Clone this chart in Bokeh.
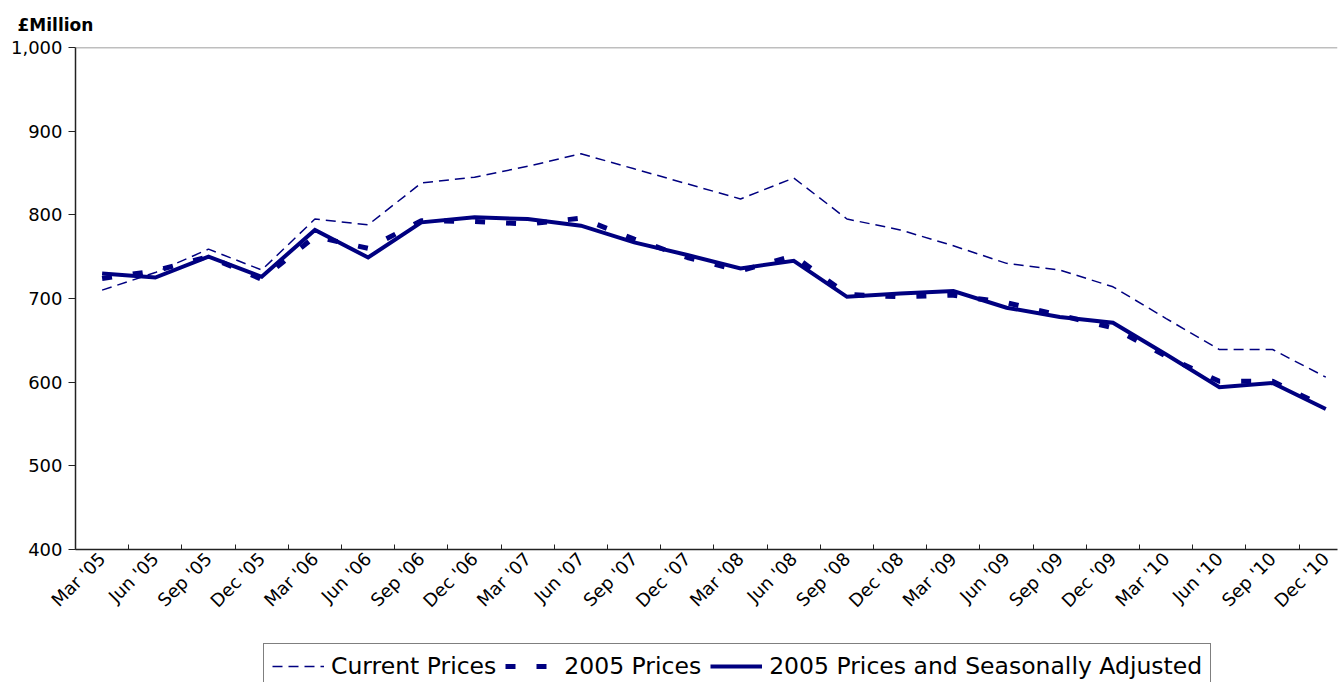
from math import pi
from bokeh.plotting import figure
from bokeh.layouts import column
from bokeh.models import (Range1d, FixedTicker, NumeralTickFormatter, Legend,
                          LegendItem, Span)
from bokeh.embed import file_html
from bokeh.resources import INLINE

quarters = ["Mar '05", "Jun '05", "Sep '05", "Dec '05",
            "Mar '06", "Jun '06", "Sep '06", "Dec '06",
            "Mar '07", "Jun '07", "Sep '07", "Dec '07",
            "Mar '08", "Jun '08", "Sep '08", "Dec '08",
            "Mar '09", "Jun '09", "Sep '09", "Dec '09",
            "Mar '10", "Jun '10", "Sep '10", "Dec '10"]

current_prices = [710, 731, 759, 734, 795, 788, 838, 845, 858, 873, 855, 837,
                  819, 844, 795, 782, 763, 742, 734, 714, 676, 639, 639, 606]

prices_2005 = [724, 733, 750, 723, 774, 760, 793, 792, 789, 796, 771, 749,
               733, 751, 705, 702, 704, 695, 680, 665, 631, 601, 601, 570]

prices_2005_sa = [730, 725, 750, 726, 782, 749, 791, 797, 795, 787, 767, 752,
                  736, 745, 702, 706, 709, 689, 678, 671, 633, 594, 599, 568]

y_ticks = [400, 500, 600, 700, 800, 900, 1000]
series_names = ["Current Prices", "2005 Prices",
                "2005 Prices and Seasonally Adjusted"]

NAVY = "#000080"
FONT = "DejaVu Sans"

STYLES = [dict(line_color=NAVY, line_width=1.5, line_dash="10 6"),
          dict(line_color=NAVY, line_width=5, line_dash="10 21"),
          dict(line_color=NAVY, line_width=4, line_join="miter")]

xs = [i + 0.5 for i in range(len(quarters))]

p = figure(width=1339, height=640,
           x_range=Range1d(0, 23.72), y_range=Range1d(400, 1000),
           output_backend="svg", toolbar_location=None,
           min_border_left=75, min_border_right=2,
           min_border_top=47, min_border_bottom=91)
p.outline_line_color = None
p.xgrid.visible = False
p.ygrid.visible = False
p.background_fill_color = "white"
p.border_fill_color = "white"

# unit label as a left-aligned title
p.title.text = "£Million"
p.title.align = "left"
p.title.offset = -58
p.title.standoff = 25
p.title.text_font = FONT
p.title.text_font_size = "17px"
p.title.text_font_style = "bold"
p.title.text_color = "black"

# top border of plot area
p.add_layout(Span(location=1000, dimension="width", line_color="#7f7f7f",
                  line_width=1.5))

for vals, st in zip([current_prices, prices_2005, prices_2005_sa], STYLES):
    p.line(xs, vals, **st)

# x axis
xa = p.xaxis[0]
xa.ticker = FixedTicker(ticks=xs, minor_ticks=list(range(0, 25)))
xa.major_label_overrides = {x: q for x, q in zip(xs, quarters)}
xa.major_tick_in = 0
xa.major_tick_out = 0
xa.minor_tick_in = 5
xa.minor_tick_out = 0
xa.minor_tick_line_color = "#222222"
xa.axis_line_color = "#222222"
xa.axis_line_width = 1.5
xa.major_label_orientation = pi / 4
xa.major_label_standoff = 6
xa.major_label_text_font = FONT
xa.major_label_text_font_size = "18px"
xa.major_label_text_color = "black"

# y axis
ya = p.yaxis[0]
ya.ticker = FixedTicker(ticks=y_ticks)
ya.formatter = NumeralTickFormatter(format="0,0")
ya.major_tick_in = 0
ya.major_tick_out = 7
ya.minor_tick_in = 0
ya.minor_tick_out = 0
ya.major_tick_line_color = "#222222"
ya.axis_line_color = "#222222"
ya.axis_line_width = 1.5
ya.major_label_standoff = 6
ya.major_label_text_font = FONT
ya.major_label_text_font_size = "18px"
ya.major_label_text_color = "black"

# legend strip (the reference legend box is cut by the picture's bottom edge)
p2 = figure(width=1339, height=42, x_range=Range1d(0, 1),
            y_range=Range1d(0, 1), output_backend="svg",
            toolbar_location=None, x_axis_location=None,
            y_axis_location=None, min_border=0)
p2.outline_line_color = None
p2.xgrid.visible = False
p2.ygrid.visible = False
p2.background_fill_color = "white"
p2.border_fill_color = "white"

items = []
for name, st in zip(series_names, STYLES):
    # proxy renderers lying outside the strip's visible range
    r = p2.line([5, 6], [5, 6], **st)
    items.append(LegendItem(label=name, renderers=[r]))

legend = Legend(items=items, orientation="horizontal", location=(188, -7),
                label_text_font=FONT, label_text_font_size="23.5px",
                label_text_color="black",
                glyph_width=52, glyph_height=20, label_standoff=7,
                spacing=9, padding=8, margin=0,
                border_line_color="black", border_line_width=1,
                background_fill_color="white", background_fill_alpha=1)
p2.add_layout(legend)

layout = column(p, p2, spacing=0)
open("out.html", "w").write(file_html(layout, INLINE))
